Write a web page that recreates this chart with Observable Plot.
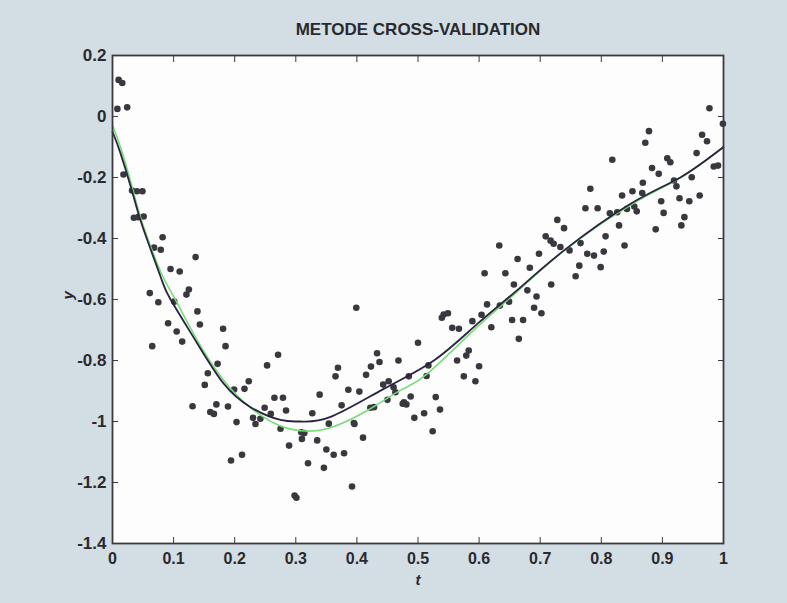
<!DOCTYPE html>
<html>
<head>
<meta charset="utf-8">
<script src="https://cdn.jsdelivr.net/npm/d3@7"></script>
<script src="https://cdn.jsdelivr.net/npm/@observablehq/plot@0.6"></script>
<style>
  html, body { margin: 0; padding: 0; background: #d3dde4; }
  #chart { width: 787px; height: 603px; }
</style>
</head>
<body>
<div id="chart"></div>
<script>
// Observed data points (t, y)
const pointT = [
  0.010, 0.016, 0.008, 0.024, 0.018, 0.032, 0.049, 0.040, 0.035, 0.051, 0.042,
  0.082, 0.068, 0.079, 0.136, 0.095, 0.110, 0.061, 0.075, 0.125, 0.121, 0.101,
  0.139, 0.143, 0.091, 0.105, 0.114, 0.065, 0.181, 0.185, 0.172, 0.156, 0.151,
  0.131, 0.160, 0.170, 0.189, 0.199, 0.216, 0.223, 0.203, 0.253, 0.271, 0.265,
  0.279, 0.284, 0.230, 0.234, 0.242, 0.249, 0.259, 0.275, 0.289, 0.309, 0.314,
  0.310, 0.335, 0.327, 0.339, 0.354, 0.298, 0.301, 0.194, 0.212, 0.392, 0.320,
  0.346, 0.350, 0.362, 0.379, 0.410, 0.396, 0.494, 0.510, 0.524, 0.536, 0.375,
  0.475, 0.428, 0.399, 0.633, 0.663, 0.609, 0.643, 0.657, 0.613, 0.634, 0.604,
  0.589, 0.654, 0.620, 0.665, 0.542, 0.539, 0.549, 0.556, 0.567, 0.500, 0.583,
  0.579, 0.564, 0.600, 0.575, 0.594, 0.517, 0.514, 0.468, 0.433, 0.437, 0.423,
  0.369, 0.365, 0.415, 0.386, 0.404, 0.443, 0.452, 0.460, 0.463, 0.488, 0.477,
  0.481, 0.450, 0.529, 0.395, 0.977, 0.999, 0.965, 0.973, 0.878, 0.872, 0.818,
  0.908, 0.913, 0.956, 0.984, 0.991, 0.883, 0.894, 0.948, 0.868, 0.919, 0.923,
  0.782, 0.834, 0.851, 0.867, 0.928, 0.944, 0.961, 0.898, 0.774, 0.794, 0.814,
  0.826, 0.842, 0.854, 0.858, 0.902, 0.936, 0.931, 0.829, 0.889, 0.838, 0.728,
  0.739, 0.807, 0.804, 0.709, 0.717, 0.722, 0.733, 0.748, 0.766, 0.777, 0.788,
  0.799, 0.764, 0.758, 0.698, 0.683, 0.718, 0.679, 0.694, 0.690, 0.702, 0.672,
  0.649, 0.166, 0.422, 0.485
];
const pointY = [
  0.120, 0.110, 0.025, 0.030, -0.190, -0.243, -0.245, -0.245, -0.332, -0.328, -0.330,
  -0.396, -0.430, -0.437, -0.461, -0.500, -0.508, -0.579, -0.609, -0.567, -0.584, -0.607,
  -0.639, -0.682, -0.678, -0.705, -0.738, -0.753, -0.696, -0.753, -0.811, -0.842, -0.880,
  -0.950, -0.969, -0.944, -0.951, -0.895, -0.893, -0.868, -1.002, -0.816, -0.781, -0.922,
  -0.922, -0.964, -0.988, -1.008, -0.991, -0.955, -0.975, -1.024, -1.079, -1.035, -1.038,
  -1.057, -1.062, -0.973, -0.912, -1.007, -1.243, -1.250, -1.128, -1.109, -1.213, -1.137,
  -1.152, -1.092, -1.109, -1.104, -1.053, -1.008, -0.988, -0.973, -1.032, -0.961, -0.947,
  -0.942, -0.953, -0.627, -0.423, -0.467, -0.514, -0.514, -0.551, -0.616, -0.620, -0.650,
  -0.671, -0.667, -0.691, -0.729, -0.649, -0.660, -0.645, -0.693, -0.696, -0.742, -0.767,
  -0.784, -0.800, -0.819, -0.852, -0.868, -0.816, -0.851, -0.800, -0.776, -0.805, -0.820,
  -0.824, -0.852, -0.847, -0.896, -0.902, -0.879, -0.868, -0.888, -0.904, -0.918, -0.937,
  -0.944, -0.929, -0.920, -1.005, 0.027, -0.024, -0.060, -0.081, -0.048, -0.086, -0.142,
  -0.137, -0.150, -0.120, -0.164, -0.161, -0.169, -0.188, -0.199, -0.217, -0.210, -0.229,
  -0.237, -0.259, -0.245, -0.251, -0.268, -0.278, -0.259, -0.278, -0.301, -0.301, -0.317,
  -0.314, -0.303, -0.295, -0.311, -0.316, -0.330, -0.357, -0.357, -0.370, -0.423, -0.339,
  -0.366, -0.393, -0.443, -0.393, -0.407, -0.417, -0.428, -0.439, -0.415, -0.450, -0.456,
  -0.494, -0.489, -0.524, -0.450, -0.496, -0.551, -0.570, -0.590, -0.627, -0.645, -0.667,
  -0.607, -0.975, -0.955, -0.852
];

// Fitted curve (dark) read at several t
const darkT = [0, 0.013, 0.032, 0.049, 0.079, 0.095, 0.139, 0.182, 0.226, 0.275, 0.308, 0.357, 0.444, 0.526, 0.597, 0.662, 0.739, 0.848, 0.930, 1.0];
const darkY = [-0.05, -0.12, -0.245, -0.36, -0.527, -0.600, -0.745, -0.876, -0.953, -0.995, -1.0, -0.985, -0.893, -0.800, -0.680, -0.570, -0.439, -0.286, -0.199, -0.10];
// Fitted curve (green) read at several t
const greenT = [0, 0.013, 0.032, 0.049, 0.079, 0.100, 0.139, 0.182, 0.226, 0.275, 0.308, 0.351, 0.417, 0.471, 0.515, 0.597, 0.662, 0.739, 0.848, 0.930, 1.0];
const greenY = [-0.03, -0.10, -0.23, -0.35, -0.51, -0.59, -0.735, -0.865, -0.955, -1.015, -1.03, -1.024, -0.964, -0.898, -0.844, -0.690, -0.575, -0.440, -0.290, -0.200, -0.10];

const xTicks = [0, 0.1, 0.2, 0.3, 0.4, 0.5, 0.6, 0.7, 0.8, 0.9, 1];
const yTicks = [0.2, 0, -0.2, -0.4, -0.6, -0.8, -1, -1.2, -1.4];
const titleText = "METODE CROSS-VALIDATION";
const xLabel = "t";
const yLabel = "y";

const points = pointT.map((t, i) => ({t, y: pointY[i]}));
const dark = darkT.map((t, i) => ({t, y: darkY[i]}));
const green = greenT.map((t, i) => ({t, y: greenY[i]}));

const fmt = d => String(+d.toFixed(1));
const font = "'Liberation Sans', Arial, sans-serif";

const chart = Plot.plot({
  width: 787,
  height: 603,
  marginLeft: 112,
  marginRight: 64,
  marginTop: 55,
  marginBottom: 60,
  style: {background: "#d3dde4", fontFamily: font, color: "#2a2a2e"},
  x: {domain: [0, 1]},
  y: {domain: [-1.4, 0.2]},
  marks: [
    Plot.frame({fill: "#fdfdfd", stroke: null}),
    Plot.dot(points, {x: "t", y: "y", r: 3.3, fill: "#38383e", stroke: null}),
    Plot.line(green, {x: "t", y: "y", curve: "natural", stroke: "#78dc78", strokeWidth: 1.6}),
    Plot.line(dark, {x: "t", y: "y", curve: "natural", stroke: "#2b2440", strokeWidth: 1.8}),
    Plot.frame({stroke: "#3a3a40", strokeWidth: 1.8}),
    Plot.axisX(xTicks, {anchor: "bottom", tickSize: -6, tickPadding: 15, tickFormat: fmt, label: null, fontSize: 16, fontWeight: "bold", stroke: "#3a3a40"}),
    Plot.axisX(xTicks, {anchor: "top", tickSize: -6, tickFormat: () => "", label: null, stroke: "#3a3a40"}),
    Plot.axisY(yTicks, {anchor: "left", tickSize: -6, tickPadding: 12, tickFormat: fmt, label: null, fontSize: 17, fontWeight: "bold", stroke: "#3a3a40"}),
    Plot.axisY(yTicks, {anchor: "right", tickSize: -6, tickFormat: () => "", label: null, stroke: "#3a3a40"}),
    Plot.text([titleText], {frameAnchor: "top", lineAnchor: "middle", dy: -26, fontSize: 17, fontWeight: "bold", fill: "#2a2a2e", letterSpacing: "-0.5px"}),
    Plot.text([xLabel], {frameAnchor: "bottom", lineAnchor: "middle", dy: 37, fontSize: 15, fontStyle: "italic", fontWeight: "bold", fill: "#2a2a2e"}),
    Plot.text([yLabel], {frameAnchor: "left", lineAnchor: "middle", dx: -44, rotate: -90, fontSize: 15, fontStyle: "italic", fontWeight: "bold", fill: "#2a2a2e"})
  ]
});
document.getElementById("chart").appendChild(chart);
</script>
</body>
</html>
